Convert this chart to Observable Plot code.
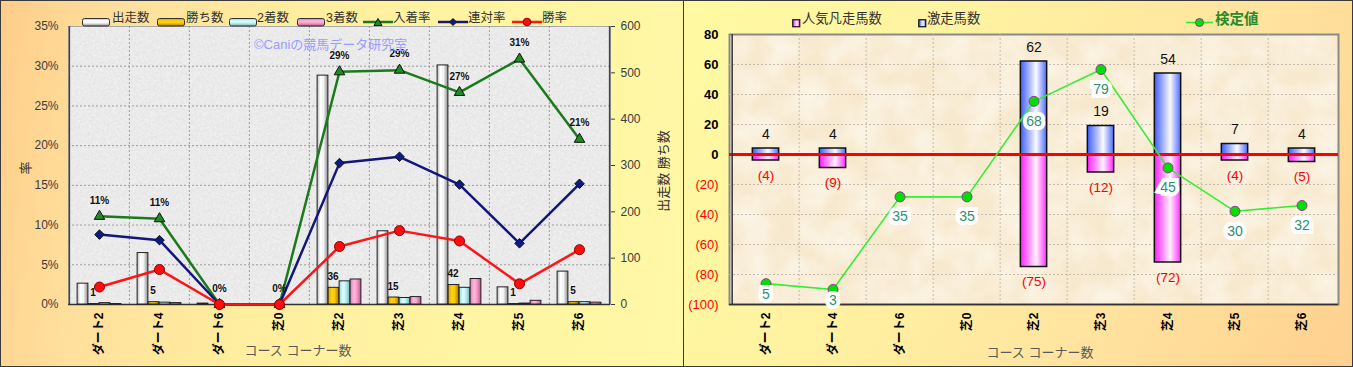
<!DOCTYPE html>
<html lang="ja"><head><meta charset="utf-8">
<script src="https://cdn.jsdelivr.net/npm/d3@7"></script>
<script src="https://cdn.jsdelivr.net/npm/@observablehq/plot@0.6"></script>
<style>
html,body{margin:0;padding:0;background:#fff;}
body{font-family:"Liberation Sans","Noto Sans CJK JP",sans-serif;}
#wrap{position:relative;width:1353px;height:367px;overflow:hidden;}
.panel{position:absolute;top:0;height:367px;overflow:hidden;}
#pL{left:0;width:684px;background:linear-gradient(100deg,#ffcd8a 0%,#ffdf9c 16%,#ffee9f 40%,#fff5a3 70%,#fff8a6 100%);}
#pR{left:683px;width:670px;background:linear-gradient(118deg,#fffaa3 0%,#fff4a1 30%,#ffe5a0 65%,#ffd08f 100%);}
.border{position:absolute;left:0;top:0;right:0;bottom:0;box-shadow:inset 0 0 0 1px #3a3a3a;pointer-events:none;}
.layer{position:absolute;left:0;top:0;}
.t{position:absolute;white-space:nowrap;line-height:1;transform:translateY(-50%);}
</style></head><body>
<svg width="0" height="0" style="position:absolute">
<defs id="defs">
<filter id="nL" x="0" y="0" width="100%" height="100%">
 <feTurbulence type="fractalNoise" baseFrequency="0.85" numOctaves="2" seed="7"/>
 <feColorMatrix type="matrix" values="0 0 0 0 0.6  0 0 0 0 0.6  0 0 0 0 0.6  1.1 0 0 0 -0.47"/>
</filter>
<filter id="nL2" x="0" y="0" width="100%" height="100%">
 <feTurbulence type="fractalNoise" baseFrequency="0.55" numOctaves="2" seed="21"/>
 <feColorMatrix type="matrix" values="0 0 0 0 1  0 0 0 0 1  0 0 0 0 1  0 1.4 0 0 -0.45"/>
</filter>
<pattern id="texL" patternUnits="userSpaceOnUse" width="684" height="367">
 <rect width="684" height="367" fill="#e8e8e8"/>
 <rect width="684" height="367" filter="url(#nL2)"/>
 <rect width="684" height="367" filter="url(#nL)"/>
</pattern>
<filter id="nR" x="0" y="0" width="100%" height="100%">
 <feTurbulence type="fractalNoise" baseFrequency="0.035" numOctaves="3" seed="4"/>
 <feColorMatrix type="matrix" values="0 0 0 0 1  0 0 0 0 0.99  0 0 0 0 0.96  1.0 0 0 0 -0.3"/>
</filter>
<pattern id="texR" patternUnits="userSpaceOnUse" width="670" height="367">
 <rect width="670" height="367" fill="#f7e9ce"/>
 <rect width="670" height="367" filter="url(#nR)"/>
</pattern>
</defs></svg>
<div id="wrap">
 <div class="panel" id="pL"></div>
 <div class="panel" id="pR"></div>
</div>
<script>
// ---------- data ----------
const cats = ["ダート2","ダート4","ダート6","芝0","芝2","芝3","芝4","芝5","芝6"];
// left chart (counts, right axis)
const runs    = [45, 111, 2, 1, 494, 158, 516, 37, 71];
const wins    = [1, 5, 0, 0, 36, 15, 42, 1, 5];
const seconds = [3, 4, 0, 0, 50, 14, 36, 2, 5];
const thirds  = [1, 3, 0, 0, 54, 16, 55, 8, 4];
// left chart (rates, left axis)
const placeRate  = [0.111, 0.108, 0, 0, 0.293, 0.295, 0.267, 0.309, 0.208];
const rentaiRate = [0.088, 0.081, 0, 0, 0.178, 0.186, 0.151, 0.077, 0.152];
const winRate    = [0.022, 0.044, 0, 0, 0.073, 0.093, 0.080, 0.026, 0.069];
const placeLabels = ["11%","11%","0%","0%","29%","29%","27%","31%","21%"];
const rateTicks = [0,0.05,0.10,0.15,0.20,0.25,0.30,0.35];
const countTicks = [0,100,200,300,400,500,600];
// right chart
const gekisou = [4, 4, 0, 0, 62, 19, 54, 7, 4];        // 激走馬数
const bonsou  = [-4, -9, 0, 0, -75, -12, -72, -4, -5]; // 人気凡走馬数
const kentei  = [5, 3, 35, 35, 68, 79, 45, 30, 32];    // 検定値
const rightTicksPos = [0,20,40,60,80];
const rightTicksNeg = [-100,-80,-60,-40,-20];

// ---------- gradients ----------
const grads = {
  gRun:[["0","#b4b4b4"],["0.3","#ffffff"],["0.6","#f2f2f2"],["1","#8a8a8a"]],
  gWin:[["0","#d9a400"],["0.35","#ffd21a"],["0.6","#ffc800"],["1","#a87a00"]],
  g2nd:[["0","#93d3d6"],["0.35","#dcffff"],["0.6","#c2f2f4"],["1","#6fb4b8"]],
  g3rd:[["0","#e079b0"],["0.35","#ffb8dc"],["0.6","#f7a0cc"],["1","#b85590"]],
  gBlue:[["0","#3c5cff"],["0.6","#fbfbff"],["1","#4d6cff"]],
  gPink:[["0","#ff1cff"],["0.6","#fff2ff"],["1","#ff2cff"]]
};
const defs = document.getElementById("defs");
const NS = "http://www.w3.org/2000/svg";
for (const [id, stops] of Object.entries(grads)) {
  for (const [suffix, vert] of [["", false], ["V", true]]) {
    const g = document.createElementNS(NS, "linearGradient");
    g.setAttribute("id", id + suffix);
    g.setAttribute("x1", 0); g.setAttribute("y1", 0);
    g.setAttribute("x2", vert ? 0 : 1); g.setAttribute("y2", vert ? 1 : 0);
    for (const [o, c] of stops) {
      const s = document.createElementNS(NS, "stop");
      s.setAttribute("offset", o); s.setAttribute("stop-color", c);
      g.appendChild(s);
    }
    defs.appendChild(g);
  }
}

// ---------- tables ----------
const rowsL = cats.map((cat, i) => ({cat, runs: runs[i], wins: wins[i], second: seconds[i], third: thirds[i],
  place: placeRate[i], rentai: rentaiRate[i], win: winRate[i], placeLabel: placeLabels[i]}));
const rowsR = cats.map((cat, i) => ({cat, up: gekisou[i], down: bonsou[i], k: kentei[i], idx: i}));

const FONT = '"Liberation Sans","Noto Sans CJK JP",sans-serif';
const H = 367;
const pL = document.getElementById("pL");
const pR = document.getElementById("pR");
function add(panel, svg) { svg.classList.add("layer"); panel.appendChild(svg); return svg; }
function txt(panel, s, x, y, css = {}) {
  const d = document.createElement("div");
  d.className = "t"; d.textContent = s;
  d.style.left = x + "px"; d.style.top = y + "px";
  Object.assign(d.style, css);
  panel.appendChild(d); return d;
}
function bold(svg, label) {
  const g = svg.querySelector(`g[aria-label="${label}"]`);
  if (g) g.setAttribute("font-weight", "bold");
}

// ================= LEFT PANEL =================
const WL = 684;
const mL = {marginLeft: 68, marginRight: 74, marginTop: 26, marginBottom: 63};
const bwL = (WL - mL.marginLeft - mL.marginRight) / cats.length;
const styleL = {background: "transparent", fontFamily: FONT, fontSize: "12px", color: "#3c3c3c", overflow: "visible"};
const grid = {stroke: "#8e8e8e", strokeOpacity: 0.85, strokeDasharray: "2,2"};

// layer 1: background, grid, left axis, x axis
const L1 = add(pL, Plot.plot({
  width: WL, height: H, ...mL, style: styleL,
  x: {type: "band", domain: cats, padding: 0},
  y: {domain: [0, 0.35]},
  marks: [
    Plot.frame({fill: "url(#texL)", stroke: "#a8a8a8"}),
    Plot.gridY(rateTicks.slice(1, -1), grid),
    Plot.ruleX(cats.slice(1), {dx: -bwL / 2, ...grid}),
    Plot.axisY({ticks: rateTicks, tickFormat: d => Math.round(d * 100) + "%", tickSize: 0, tickPadding: 10, label: null}),
    Plot.axisX({tickRotate: -90, tickSize: 0, tickPadding: 8, label: null, color: "#000"}),
    Plot.ruleY([0], {stroke: "#333", strokeWidth: 1.5}),
    Plot.ruleX([cats[0]], {dx: -bwL / 2, stroke: "#444", strokeWidth: 1.5})
  ]
}));
bold(L1, "x-axis tick label");

// layer 2: bars with right count axis
const seriesL = [["runs", "url(#gRun)"], ["wins", "url(#gWin)"], ["second", "url(#g2nd)"], ["third", "url(#g3rd)"]];
const groupW = 44, barW = 11, offL = (bwL - groupW) / 2;
add(pL, Plot.plot({
  width: WL, height: H, ...mL, style: styleL,
  x: {type: "band", domain: cats, padding: 0, axis: null},
  y: {domain: [0, 600]},
  marks: [
    ...seriesL.map(([k, f], i) => Plot.barY(rowsL, {x: "cat", y: k, fill: f, stroke: "#222", strokeWidth: 1,
      insetLeft: offL + barW * i, insetRight: bwL - offL - barW * (i + 1)})),
    Plot.text(rowsL.filter(d => d.wins > 0), {x: "cat", y: "wins", text: d => String(d.wins), dx: -6.5, dy: -11,
      fontSize: 10, fontWeight: "bold", fill: "#111"}),
    Plot.axisY({anchor: "right", ticks: countTicks, tickSize: 4, tickPadding: 6, label: null}),
    Plot.ruleX([cats[cats.length - 1]], {dx: bwL / 2, stroke: "#444", strokeWidth: 1.5})
  ]
}));

// layer 3: rate lines
add(pL, Plot.plot({
  width: WL, height: H, ...mL, style: styleL,
  x: {type: "band", domain: cats, padding: 0, axis: null},
  y: {domain: [0, 0.35], axis: null},
  marks: [
    Plot.line(rowsL, {x: "cat", y: "place", stroke: "#1b7a1b", strokeWidth: 2.5}),
    Plot.line(rowsL, {x: "cat", y: "rentai", stroke: "#14167c", strokeWidth: 2.5}),
    Plot.line(rowsL, {x: "cat", y: "win", stroke: "#ff1515", strokeWidth: 2.5}),
    Plot.dot(rowsL, {x: "cat", y: "place", symbol: "triangle", r: 3.9, fill: "#1e8c1e", stroke: "#111", strokeWidth: 1}),
    Plot.dot(rowsL, {x: "cat", y: "rentai", symbol: "diamond2", r: 4.3, fill: "#0d1a8a", stroke: "#111", strokeWidth: 1}),
    Plot.dot(rowsL, {x: "cat", y: "win", symbol: "circle", r: 5, fill: "#ff0d0d", stroke: "#8a0000", strokeWidth: 1}),
    Plot.text(rowsL, {x: "cat", y: "place", text: "placeLabel", dy: -16, fontSize: 10, fontWeight: "bold", fill: "#111"})
  ]
}));

// left texts / legend
txt(pL, "©Caniの競馬データ研究室", 254, 43.5, {fontSize: "13px", color: "#9a9cff"});
txt(pL, "率", 25, 168, {fontSize: "13px", color: "#333", transform: "translate(-50%,-50%) rotate(-90deg)"});
txt(pL, "出走数 勝ち数", 663, 171, {fontSize: "13px", color: "#333", transform: "translate(-50%,-50%) rotate(-90deg)"});
txt(pL, "コース コーナー数", 298, 350, {fontSize: "13px", color: "#5a5a5a", transform: "translate(-50%,-50%)"});

const legBars = [["gRunV", 82, 112, "出走数"], ["gWinV", 157, 186, "勝ち数"], ["g2ndV", 229, 257, "2着数"], ["g3rdV", 297, 326, "3着数"]];
for (const [g, x, tx, label] of legBars) {
  const d = document.createElement("div");
  d.style.cssText = `position:absolute;left:${x}px;top:13px;`;
  d.innerHTML = `<svg width="29" height="9"><rect x="0.5" y="0.5" width="27" height="7.5" rx="2" fill="url(#${g})" stroke="#333"/></svg>`;
  pL.appendChild(d);
  txt(pL, label, tx, 17.5, {fontSize: "12.5px", color: "#333"});
}
const legLines = [["#1b7a1b", "tri", 363, 393, "入着率"], ["#14167c", "dia", 438, 468, "連対率"], ["#ff1515", "cir", 512, 542, "勝率"]];
for (const [c, s, x, tx, label] of legLines) {
  const m = s === "tri" ? `<path d="M15,1.5 L19,8.5 L11,8.5 Z" fill="#1e8c1e" stroke="#111"/>`
          : s === "dia" ? `<path d="M15,1.5 L18.5,5 L15,8.5 L11.5,5 Z" fill="#0d1a8a" stroke="#111"/>`
          : `<circle cx="15" cy="5" r="3.8" fill="#ff0d0d" stroke="#8a0000"/>`;
  const d = document.createElement("div");
  d.style.cssText = `position:absolute;left:${x}px;top:12.5px;`;
  d.innerHTML = `<svg width="30" height="10"><line x1="0" x2="30" y1="5" y2="5" stroke="${c}" stroke-width="2.5"/>${m}</svg>`;
  pL.appendChild(d);
  txt(pL, label, tx, 17.5, {fontSize: "12.5px", color: "#333"});
}
const bL = document.createElement("div"); bL.className = "border"; pL.appendChild(bL);

// ================= RIGHT PANEL =================
const WR = 670;
const mR = {marginLeft: 46, marginRight: 15, marginTop: 34, marginBottom: 63};
const bwR = (WR - mR.marginLeft - mR.marginRight) / cats.length;
const barWR = 27, insR = (bwR - barWR) / 2;
const styleR = {background: "transparent", fontFamily: FONT, fontSize: "12px", color: "#000", overflow: "visible"};
const gridR = {stroke: "#bdb6aa", strokeOpacity: 0.9, strokeDasharray: "2,2"};

const R1 = add(pR, Plot.plot({
  width: WR, height: H, ...mR, style: styleR,
  x: {type: "band", domain: cats, padding: 0},
  y: {domain: [-100, 80]},
  marks: [
    Plot.frame({fill: "url(#texR)", stroke: "#8a8a8a", strokeWidth: 2}),
    Plot.gridY([-80, -60, -40, -20, 20, 40, 60], gridR),
    Plot.ruleX(cats.slice(1), {dx: -bwR / 2, ...gridR}),
    Plot.barY(rowsR.filter(d => d.up !== 0), {x: "cat", y: "up", fill: "url(#gBlue)", stroke: "#111", strokeWidth: 1.5, insetLeft: insR, insetRight: insR}),
    Plot.barY(rowsR.filter(d => d.down !== 0), {x: "cat", y: "down", fill: "url(#gPink)", stroke: "#111", strokeWidth: 1.5, insetLeft: insR, insetRight: insR}),
    Plot.ruleY([0], {stroke: "#ff0000", strokeWidth: 3}),
    Plot.text(rowsR.filter(d => d.up !== 0), {x: "cat", y: "up", text: d => String(d.up), dy: -14, fontSize: 14, fill: "#111"}),
    Plot.text(rowsR.filter(d => d.down !== 0), {x: "cat", y: "down", text: d => `(${-d.down})`, dy: 15, fontSize: 13.5, fill: "#ff0000"}),
    Plot.axisY({ticks: rightTicksPos, tickSize: 0, tickPadding: 11, label: null, fontSize: 13}),
    Plot.axisY({ticks: rightTicksNeg, tickFormat: d => `(${-d})`, tickSize: 0, tickPadding: 11, label: null, color: "#ff0000", fontSize: 13}),
    Plot.axisX({tickRotate: -90, tickSize: 0, tickPadding: 8, label: null}),
    Plot.ruleY([-100], {stroke: "#333", strokeWidth: 1.5}),
    Plot.ruleX([cats[0]], {dx: -bwR / 2, stroke: "#333", strokeWidth: 1.5})
  ]
}));
bold(R1, "x-axis tick label");
R1.querySelectorAll('g[aria-label="y-axis tick label"]')[0]?.setAttribute("font-weight", "bold");

// 検定値 line on its own (hidden) scale
const kStyle = {x: "cat", y: "k", text: d => String(d.k), fontSize: 14, fill: "#2f8f6f", stroke: "#ffffff", strokeWidth: 8, strokeLinejoin: "miter"};
add(pR, Plot.plot({
  width: WR, height: H, ...mR, style: styleR,
  x: {type: "band", domain: cats, padding: 0, axis: null},
  y: {domain: [-2.2, 91.1], axis: null},
  marks: [
    Plot.line(rowsR, {x: "cat", y: "k", stroke: "#33ee33", strokeWidth: 1.6}),
    Plot.dot(rowsR, {x: "cat", y: "k", r: 5, fill: "#00e000", stroke: "#993399", strokeWidth: 1}),
    Plot.text(rowsR.filter(d => d.idx >= 2), {...kStyle, dy: 20}),
    Plot.text(rowsR.filter(d => d.idx < 2), {...kStyle, dy: 11})
  ]
}));

// right texts / legend
function sq(x, g) {
  const d = document.createElement("div");
  d.style.cssText = `position:absolute;left:${x}px;top:14px;`;
  d.innerHTML = `<svg width="9" height="9"><rect x="0.75" y="0.75" width="7" height="7" fill="url(#${g})" stroke="#111" stroke-width="1.2"/></svg>`;
  pR.appendChild(d);
}
sq(109, "gPink"); txt(pR, "人気凡走馬数", 119, 18.5, {fontSize: "13.3px", color: "#333"});
sq(235, "gBlue"); txt(pR, "激走馬数", 244, 18.5, {fontSize: "13.3px", color: "#333"});
{
  const d = document.createElement("div");
  d.style.cssText = "position:absolute;left:503px;top:14px;";
  d.innerHTML = `<svg width="27" height="11"><line x1="0" x2="27" y1="5.5" y2="5.5" stroke="#33ee33" stroke-width="1.6"/><circle cx="13.5" cy="5.5" r="4" fill="#00e000" stroke="#993399"/></svg>`;
  pR.appendChild(d);
  txt(pR, "検定値", 532, 19, {fontSize: "14.5px", color: "#2a8a2a", fontWeight: "bold"});
}
txt(pR, "コース コーナー数", 357, 352, {fontSize: "13px", color: "#5a5a5a", transform: "translate(-50%,-50%)"});
const bR = document.createElement("div"); bR.className = "border"; pR.appendChild(bR);
</script>
</body></html>
